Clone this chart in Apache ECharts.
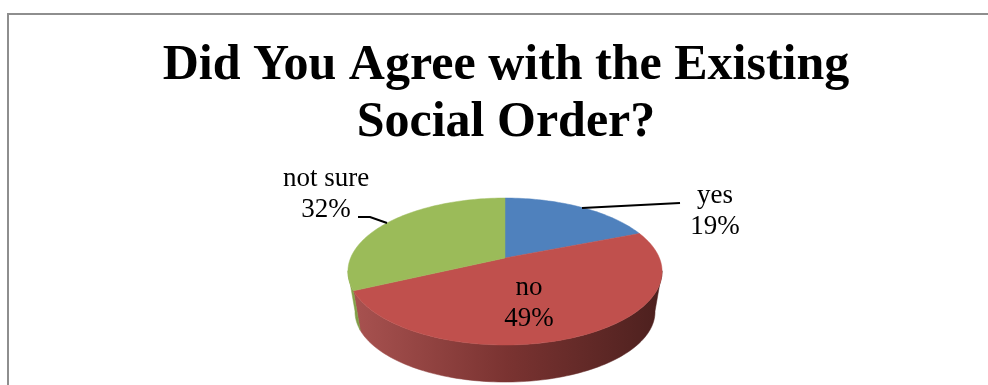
<!DOCTYPE html>
<html>
<head>
<meta charset="utf-8">
<style>html,body{margin:0;padding:0;background:#fff}#chart{width:988px;height:385px}</style>
<script src="https://cdn.jsdelivr.net/npm/echarts@6/dist/echarts.min.js"></script>
</head>
<body>
<div id="chart"></div>
<script>
// Survey answers, in percent, clockwise from twelve o'clock.
const categories = ['yes', 'no', 'not sure'];
const shares = [19, 49, 32];
const faceColors = ['#4F81BD', '#C0504D', '#9BBB59'];
const sideColors = [
  ['#3f6797', '#2a4566'],
  ['#a85250', '#7a3331', '#4c201e'],
  ['#8aa84e', '#7d9a44']
];
const titleLines = ['Did You Agree with the Existing', 'Social Order?'];

// Perspective projection of the disc onto the page.
const view = { cx: 505, topY: 258, baseY: 299, halfW: 154.4, halfH: 71, persp: 0.1837, baseScale: 0.955 };
// The rim is only seen between these two angles of the disc.
const rimFrom = 100, rimTo = 260;
// Where each answer's caption sits, and the leader drawn to its slice.
const captions = [
  { x: 715, y: 211, leader: [[582, 208], [680, 203]] },
  { x: 529, y: 303, leader: null },
  { x: 326, y: 194, leader: [[358, 217], [370, 217], [387, 223]] }
];

const serif = '"Liberation Serif", serif';
const total = shares.reduce((a, b) => a + b, 0);

function project(deg, base) {
  const t = deg * Math.PI / 180, u = Math.sin(t), v = Math.cos(t);
  const w = 1 + view.persp * v, s = base ? view.baseScale : 1;
  return [
    view.cx + s * view.halfW * u / w,
    (base ? view.baseY : view.topY) - s * view.halfH * v / w
  ];
}
function arc(from, to, base) {
  const pts = [], n = Math.max(2, Math.ceil((to - from) / 1.5));
  for (let i = 0; i <= n; i++) pts.push(project(from + (to - from) * i / n, base));
  return pts;
}
function sliceRange(i) {
  const before = shares.slice(0, i).reduce((a, b) => a + b, 0);
  return [before / total * 360, (before + shares[i]) / total * 360];
}
function gradient(stops) {
  return new echarts.graphic.LinearGradient(0, 0, 1, 0,
    stops.map((color, k) => ({ offset: k / (stops.length - 1), color })));
}

const chart = echarts.init(document.getElementById('chart'), null, { renderer: 'canvas' });
const rows = categories.map((name, i) => ({ name, value: shares[i] }));

chart.setOption({
  animation: false,
  backgroundColor: '#fff',
  title: titleLines.map((text, i) => ({
    text, left: 501, top: 36 + i * 57, textAlign: 'center',
    textStyle: { fontFamily: serif, fontWeight: 'bold', fontSize: 50, color: '#000' }
  })),
  graphic: [{
    type: 'rect', silent: true, z: 0,
    shape: { x: 8, y: 14, width: 1100, height: 500 },
    style: { fill: 'none', stroke: '#8e8e8e', lineWidth: 2 }
  }],
  series: [
    {
      // Rim of the disc, painted below the faces.
      type: 'custom', coordinateSystem: 'none', z: 2, data: rows,
      renderItem(params) {
        const i = params.dataIndex, range = sliceRange(i);
        const a = Math.max(range[0], rimFrom), b = Math.min(range[1], rimTo);
        if (a >= b) return null;
        const pts = arc(a, b, false).concat(arc(a, b, true).reverse());
        const fill = gradient(sideColors[i]);
        return { type: 'polygon', shape: { points: pts }, style: { fill, stroke: fill, lineWidth: 0.5 } };
      }
    },
    {
      // Upper faces meeting at the projected centre.
      type: 'custom', coordinateSystem: 'none', z: 3, data: rows,
      renderItem(params) {
        const i = params.dataIndex, [a, b] = sliceRange(i);
        const pts = [[view.cx, view.topY]].concat(arc(a, b, false));
        return { type: 'polygon', shape: { points: pts },
          style: { fill: faceColors[i], stroke: faceColors[i], lineWidth: 0.5 } };
      }
    },
    {
      // Captions and their leader lines.
      type: 'custom', coordinateSystem: 'none', z: 4, data: rows,
      renderItem(params) {
        const i = params.dataIndex, c = captions[i], children = [{
          type: 'text', x: c.x, y: c.y,
          style: {
            text: categories[i] + '\n' + shares[i] + '%',
            font: '27px ' + serif, lineHeight: 31, fill: '#000',
            align: 'center', verticalAlign: 'middle'
          }
        }];
        if (c.leader) children.push({
          type: 'polyline', shape: { points: c.leader },
          style: { fill: 'none', stroke: '#000', lineWidth: 2 }
        });
        return { type: 'group', children };
      }
    }
  ]
});
</script>
</body>
</html>
